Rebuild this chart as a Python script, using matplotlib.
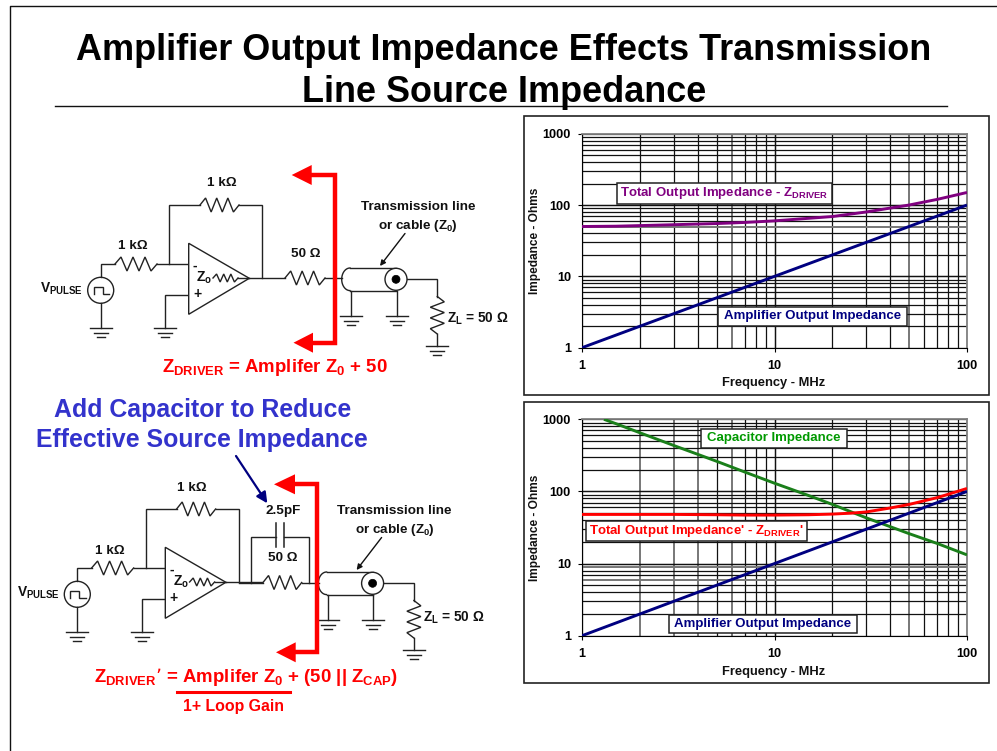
import matplotlib
matplotlib.use("Agg")
import matplotlib.pyplot as plt
from matplotlib.patches import Circle, Polygon, Rectangle
import numpy as np

plt.rcParams['font.family'] = ['Liberation Sans', 'DejaVu Sans']
plt.rcParams['font.weight'] = 'bold'
plt.rcParams['mathtext.default'] = 'regular'

W, H = 997, 751

# chart data
freq_amp = [1, 1.5, 2, 3, 5, 7, 10, 20, 30, 50, 70, 100]
z_amp = [1, 1.5, 2, 3, 5, 7, 10, 20, 30, 50, 70, 100]

freq_total = [1, 1.5, 2, 3, 5, 7, 10, 20, 30, 50, 70, 100]
z_total = [50, 50.5, 51.5, 53, 55, 57, 60, 69, 80, 100, 120, 150]

freq_cap = [1.3, 1.5, 2, 3, 5, 7, 10, 15, 20, 30, 50, 70, 100]
z_cap = [1000, 870, 650, 433, 262, 186, 130, 88, 66, 43, 26, 19, 13.2]

freq_total2 = [1, 2, 3, 5, 7, 10, 15, 20, 25, 30, 40, 50, 70, 100]
z_total2 = [48, 48, 48, 47.5, 47, 47, 47.5, 48.5, 50, 52, 59, 66, 82, 110]

ticks_major = [1, 10, 100, 1000]
ticks_x = [1, 10, 100]

# gridlines that come out grey in the reference
grey1_x = [6, 50]
grey1_y = [50]
grey2_x = [2, 3, 4, 6, 50]
grey2_y = [6, 9]

fig = plt.figure(figsize=(W / 100, H / 100), dpi=100)


def px_axes(x0, y0, x1, y1):
    return fig.add_axes([x0 / W, 1 - y1 / H, (x1 - x0) / W, (y1 - y0) / H])


def chart(y0, y1, series, grey_x, grey_y):
    ax = px_axes(582, y0, 967, y1)
    ax.set_xscale('log')
    ax.set_yscale('log')
    ax.set_xlim(1, 100)
    ax.set_ylim(1, 1000)
    for d in [1, 10]:
        for m in range(1, 11):
            v = d * m
            if v in grey_x:
                ax.axvline(v, color='#777777', lw=1.4, zorder=1)
            else:
                ax.axvline(v, color='#111111', lw=0.9, zorder=1)
    for d in [1, 10, 100]:
        for m in range(1, 11):
            v = d * m
            if v in grey_y:
                ax.axhline(v, color='#777777', lw=1.4, zorder=1)
            else:
                ax.axhline(v, color='#111111', lw=0.9, zorder=1)
    for f, z, c in series:
        ax.plot(f, z, color=c, lw=2.1, zorder=3, solid_capstyle='butt')
    ax.set_xticks(ticks_x)
    ax.set_xticklabels(['1', '10', '100'])
    ax.set_yticks(ticks_major)
    ax.set_yticklabels(['1', '10', '100', '1000'])
    ax.minorticks_off()
    ax.tick_params(length=3, width=0.8, labelsize=9.2, pad=5)
    ax.tick_params(axis='x', pad=6)
    for s in ['top', 'right']:
        ax.spines[s].set_color('#808080')
        ax.spines[s].set_linewidth(1.3)
    return ax


chart(133.7, 347.7, [(freq_total, z_total, '#800080'), (freq_amp, z_amp, '#000080')], grey1_x, grey1_y)
chart(419.3, 635.7, [(freq_cap, z_cap, '#1a7f1a'), (freq_total2, z_total2, '#ff0000'),
                     (freq_amp, z_amp, '#000080')], grey2_x, grey2_y)

# overlay in pixel coordinates for everything that is not a chart
ov = fig.add_axes([0, 0, 1, 1], zorder=10)
ov.set_xlim(0, W)
ov.set_ylim(H, 0)
ov.axis('off')
ov.patch.set_alpha(0)


def wire(xs, ys, color='#222222', lw=1.0, **kw):
    ov.plot(xs, ys, color=color, lw=lw, solid_joinstyle='miter', **kw)


def resistor(x0, x1, y, amp=7, n=3):
    # zigzag between x0 and x1, n full periods
    xs = np.linspace(x0, x1, 2 * n + 2)
    ys = [y] + [y - amp if i % 2 == 0 else y + amp for i in range(2 * n)] + [y]
    wire(xs, ys)


def resistor_v(x, y0, y1, amp=7, n=3):
    ys = np.linspace(y0, y1, 2 * n + 2)
    xs = [x] + [x + amp if i % 2 == 0 else x - amp for i in range(2 * n)] + [x]
    wire(xs, ys)


def ground(x, y):
    wire([x - 11, x + 11], [y, y], lw=1.0)
    wire([x - 7, x + 7], [y + 4.5, y + 4.5], lw=1.0)
    wire([x - 4, x + 4], [y + 9, y + 9], lw=1.0)


def label(x, y, s, size=9.7, color='#111111', ha='center', **kw):
    ov.text(x, y, s, fontsize=size, color=color, ha=ha, va='center', **kw)


def circuit(dx, dy):
    # source
    ov.add_patch(Circle((100.7 + dx, 290.3 + dy), 13, fill=False, ec='#222222', lw=1.0))
    wire(np.array([93.5, 93.5, 102.5, 102.5, 109]) + dx, np.array([294, 286.5, 286.5, 294, 294]) + dy, lw=1.0)
    wire(np.array([100.7, 100.7, 115]) + dx, np.array([277, 264, 264]) + dy)
    wire(np.array([100.7, 100.7]) + dx, np.array([303.3, 328]) + dy)
    ground(100.7 + dx, 328 + dy)
    resistor(115 + dx, 157 + dx, 264 + dy)
    wire(np.array([157, 189]) + dx, np.array([264, 264]) + dy)
    # feedback
    wire(np.array([169, 169, 200]) + dx, np.array([264, 205, 205]) + dy)
    resistor(200 + dx, 239 + dx, 205 + dy)
    wire(np.array([239, 262, 262]) + dx, np.array([205, 205, 278]) + dy)
    # op amp
    ov.add_patch(Polygon([(188.7 + dx, 243.3 + dy), (188.7 + dx, 314.3 + dy), (249.3 + dx, 278.3 + dy)],
                         closed=True, fc='white', ec='#222222', lw=1.0, zorder=3))
    wire(np.array([189, 165, 165]) + dx, np.array([295.3, 295.3, 328]) + dy)
    ground(165 + dx, 328 + dy)
    resistor(213 + dx, 238 + dx, 278 + dy, amp=4, n=3)
    ov.lines[-1].set_zorder(4)
    wire(np.array([238, 249]) + dx, np.array([278, 278]) + dy, zorder=4)
    label(195 + dx, 265.5 + dy, '-', size=10, zorder=5)
    label(197 + dx, 294 + dy, '+', size=10, zorder=5)
    label(204.5 + dx, 278 + dy, 'Z$_{o}$', size=10, zorder=5)
    wire(np.array([249.3, 285]) + dx, np.array([278, 278]) + dy)
    # coax
    cx, cy = 396 + dx, 279.3 + dy
    th = np.linspace(np.pi / 2, 3 * np.pi / 2, 30)
    wire(350 + dx + 8.3 * np.cos(th), cy + 11.3 * np.sin(th))
    wire([350 + dx, cx], [cy - 11.3, cy - 11.3])
    wire([350 + dx, cx], [cy + 11.3, cy + 11.3])
    ov.add_patch(Circle((cx, cy), 11, fc='white', ec='#222222', lw=1.0, zorder=3))
    ov.add_patch(Circle((cx, cy), 4, fc='black', ec='black', lw=0.5, zorder=4))
    wire([cx, 437.3 + dx, 437.3 + dx, 437.3 + dx], [cy, cy, cy, 296.5 + dy], zorder=2)
    resistor_v(437.3 + dx, 296.5 + dy, 334 + dy)
    wire([437.3 + dx, 437.3 + dx], [334 + dy, 346 + dy])
    ground(437.3 + dx, 346 + dy)
    wire([351 + dx, 351 + dx], [290.5 + dy, 316 + dy])
    ground(351 + dx, 316 + dy)
    wire([396.7 + dx, 396.7 + dx], [290.5 + dy, 316 + dy])
    ground(396.7 + dx, 316 + dy)
    # text
    label(40 + dx, 288.5 + dy, 'V$_{PULSE}$', ha='left', size=9.9)
    label(418 + dx, 207.3 + dy, 'Transmission line')
    label(418 + dx, 226 + dy, 'or cable (Z$_{0}$)')
    ov.annotate('', xy=(380 + dx, 266 + dy), xytext=(405 + dx, 233.5 + dy),
                arrowprops=dict(arrowstyle='-|>', color='#111111', lw=1.0, mutation_scale=8, shrinkA=0, shrinkB=0))


def red_bracket(x, y_top, y_bot, x_base_top, x_tip_top, x_base_bot, x_tip_bot):
    ov.plot([x_base_top, x, x, x_base_bot], [y_top, y_top, y_bot, y_bot], color='#ff0000',
            lw=3.2, solid_joinstyle='miter', zorder=6)
    ov.add_patch(Polygon([(x_tip_top, y_top), (x_base_top, y_top - 10), (x_base_top, y_top + 10)], fc='#ff0000', ec='none', zorder=6))
    ov.add_patch(Polygon([(x_tip_bot, y_bot), (x_base_bot, y_bot - 10), (x_base_bot, y_bot + 10)], fc='#ff0000', ec='none', zorder=6))


# frame and title
ov.plot([9.5, 9.5, W], [H, 5.5, 5.5], color='#111111', lw=1.0)
ov.plot([55, 947], [105.5, 105.5], color='#111111', lw=1.0)
label(504, 50.5, 'Amplifier Output Impedance Effects Transmission', size=25.9, color='black')
label(504, 93, 'Line Source Impedance', size=25.9, color='black')

# top circuit
circuit(0, 0)
resistor(285, 325, 278)
wire([325, 342], [278, 278])
label(221.7, 183.3, '1 k\u03a9')
label(133.3, 245.7, '1 k\u03a9')
label(306, 254.3, '50 \u03a9')
label(447, 319, 'Z$_{L}$ = 50 \u03a9', ha='left', size=9.8)
red_bracket(335, 175, 342.7, 311.7, 291.7, 313, 293.5)
label(274.5, 367, 'Z$_{DRIVER}$ = Amplifer Z$_{0}$ + 50', size=13.4, color='#ff0000')

# bottom circuit
circuit(-23.4, 304)
wire([238.6, 263], [582.5, 582.5])
resistor(263, 301.7, 582.5)
wire([301.7, 319], [582.5, 582.5])
wire([250.7, 250.7, 276], [582.5, 536.7, 536.7])
wire([284.3, 309.3, 309.3], [536.7, 536.7, 582.5])
wire([276, 276], [523.3, 546.7], lw=1.1)
wire([284.3, 284.3], [523.3, 546.7], lw=1.1)
label(191.7, 487.7, '1 k\u03a9')
label(110, 550.7, '1 k\u03a9')
label(282.7, 510.7, '2.5pF')
label(282.7, 558.3, '50 \u03a9')
label(423, 618, 'Z$_{L}$ = 50 \u03a9', ha='left', size=9.8)
red_bracket(316.7, 484.3, 652.3, 295, 274, 295.7, 276)
label(202.3, 409.5, 'Add Capacitor to Reduce', size=17.9, color='#3333cc')
label(202.3, 439.5, 'Effective Source Impedance', size=17.9, color='#3333cc')
ov.annotate('', xy=(267.3, 503.3), xytext=(236, 456),
            arrowprops=dict(arrowstyle='-|>', color='#000080', lw=1.6, mutation_scale=16, shrinkA=0, shrinkB=0))
label(246.5, 677, "Z$_{DRIVER}$\u2019 = Amplifer Z$_{0}$ + (50 || Z$_{CAP}$)", size=13.4, color='#ff0000')
ov.plot([177.3, 290], [692, 692], color='#ff0000', lw=2.2)
label(233.3, 706, '1+ Loop Gain', size=11.4, color='#ff0000')


# chart frames and boxed labels
def panel(x0, y0, x1, y1):
    ov.add_patch(Rectangle((x0, y0), x1 - x0, y1 - y0, fill=False, ec='#222222', lw=1.2, zorder=0))


def box_label(x0, y0, x1, y1, s, color):
    ov.add_patch(Rectangle((x0, y0), x1 - x0, y1 - y0, fc='white', ec='#222222', lw=1.1, zorder=7))
    ov.text((x0 + x1) / 2, (y0 + y1) / 2, s, color=color, fontsize=9.5, ha='center', va='center', zorder=8)


panel(523.5, 115.5, 989, 395)
panel(523.5, 402, 989, 683)
box_label(617.3, 182.7, 831.7, 203.7, 'Total Output Impedance - Z$_{DRIVER}$', '#800080')
box_label(718, 307.3, 906.7, 325.7, 'Amplifier Output Impedance', '#000080')
box_label(701, 429.3, 847.3, 447.7, 'Capacitor Impedance', '#009900')
box_label(586.3, 520.7, 807, 541.3, "Total Output Impedance' - Z$_{DRIVER}$'", '#ff0000')
box_label(668.7, 615, 856.7, 632.7, 'Amplifier Output Impedance', '#000080')

for yc in [383.3, 672]:
    label(774, yc, 'Frequency - MHz', size=9.3)
label(534.5, 240.7, 'Impedance - Ohms', size=8.6, rotation=90)
label(534.5, 528, 'Impedance - Ohms', size=8.6, rotation=90)

fig.savefig('out.png', dpi=100)
